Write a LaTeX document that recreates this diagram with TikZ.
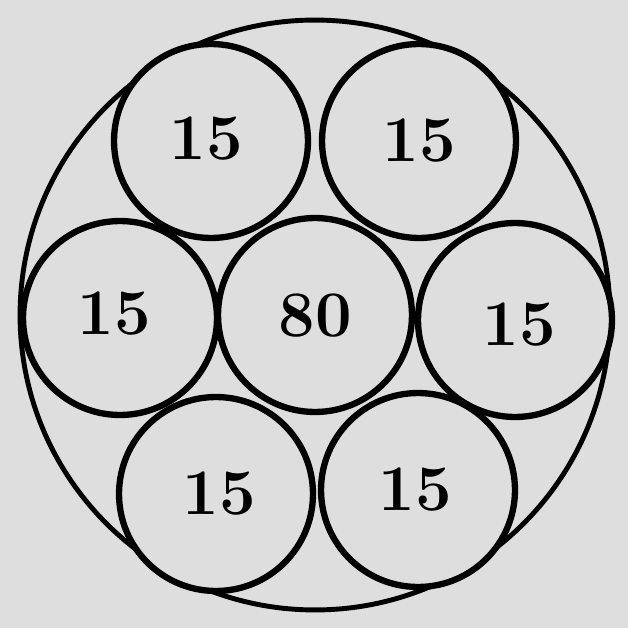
\documentclass[tikz,border=0pt]{standalone}
\definecolor{paper}{RGB}{222,222,222}
\tikzset{
  small/.style={circle, draw=black, line width=3.6pt, fill=paper, minimum size=3.88cm, inner sep=0pt},
  lbl/.style={font=\fontsize{37}{37}\selectfont\bfseries},
  big/.style={circle, draw=black, line width=2.8pt, minimum size=11.8cm, inner sep=0pt}
}
\begin{document}
\begin{tikzpicture}[x=0.02cm,y=-0.02cm]
\fill[paper] (0,0) rectangle (628,628);
\useasboundingbox (0,0) rectangle (628,628);
\node[big] (outer) at (315,315) {};
\node[small] (tl) at (211,141) {};
\node[small] (tr) at (419,141) {};
\node[small] (l) at (120,318) {};
\node[small] (c) at (315,315) {};
\node[small] (r) at (515,320) {};
\node[small] (bl) at (216,494) {};
\node[small] (br) at (418,490) {};
\node[lbl] (tlt) at (206,139) {15};
\node[lbl] (trt) at (419,141) {15};
\node[lbl] (lt) at (114,314) {15};
\node[lbl] (ct) at (315,316) {80};
\node[lbl] (rt) at (519,325) {15};
\node[lbl] (blt) at (219,494) {15};
\node[lbl] (brt) at (415,490) {15};
\end{tikzpicture}
\end{document}
